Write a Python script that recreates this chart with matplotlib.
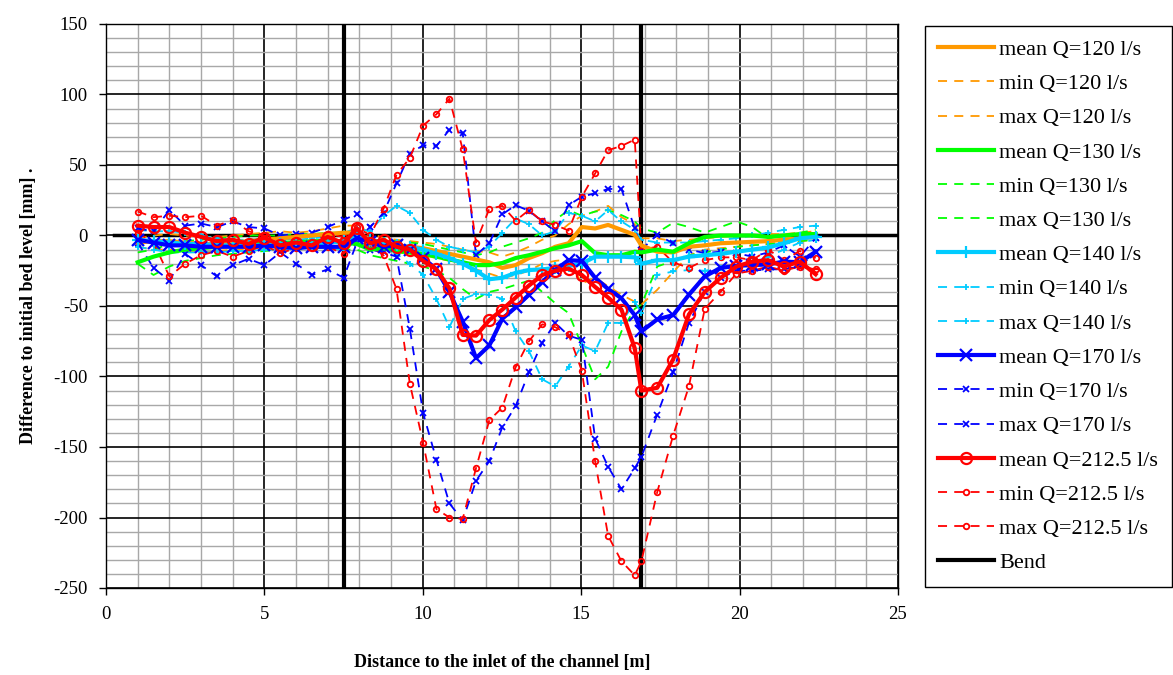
import matplotlib
matplotlib.use("Agg")
import matplotlib.pyplot as plt
from matplotlib.ticker import MultipleLocator
from matplotlib.lines import Line2D

# ============================ DADOS ============================

# Estações de medição ao longo do canal [m]
STATIONS = [1.0, 1.5, 2.0, 2.5, 3.0, 3.5, 4.0, 4.5, 5.0, 5.5, 6.0, 6.5,
            7.0, 7.5, 7.92, 8.34, 8.76, 9.17, 9.59, 10.01, 10.43, 10.84, 11.26, 11.68,
            12.1, 12.51, 12.93, 13.35, 13.77, 14.18, 14.6, 15.02, 15.44, 15.85, 16.27, 16.69,
            16.9, 17.4, 17.9, 18.4, 18.9, 19.4, 19.9, 20.4, 20.9, 21.4, 21.9, 22.4]

# Q = 120 l/s
Q120_MEAN = [-5, -4, -4, -5, -6, -6, -5, -4, -3, -2, -1, 0,
             1, 2, 2, -3, -6, -8, -8, -9, -11, -13, -15, -17,
             -19, -23, -21, -16, -12.5, -8, -5.5, 6, 5, 7.5, 4, 0.5,
             -7, -11.5, -12, -8, -7, -5.5, -5, -4.5, -4, -3, -2, -1]
Q120_MIN = [-8, -10, -10, -11, -12, -11, -10, -10, -8, -7, -6, -5,
            -5, -4, -3, -8, -10, -12, -13, -14, -16, -18, -20, -24,
            -27, -30, -28, -25, -20, -18, -17, -34, -30, -36, -42, -47,
            -49, -38.5, -26, -14, -10, -9, -8, -7, -6, -5, -4, -3]
Q120_MAX = [-2, 0, 1, 0, -1, -1, 0, 1, 2, 3, 2, 3,
            5, 7, 7, 2, -2, -3, -4, -5, -6, -8, -10, -11,
            -12, -15, -12, -8, -3, 0, 8, 14, 17, 21, 13, 8,
            -2, -2, -4, -3, -2, -1, 0, 0, 1, 1, 2, 3]

# Q = 130 l/s
Q130_MEAN = [-19, -15, -12, -10, -9, -8, -7, -6, -6, -5, -5, -4,
             -4, -5, -6, -10, -9, -11, -12, -13, -15, -17, -19, -21,
             -21, -19.5, -16, -14, -11.5, -9, -7, -4, -12.5, -14, -14, -11.5,
             -12, -10, -11.5, -5.5, -1, 0, 0, 0, -1, 0, 1, 1]
Q130_MIN = [-20, -28, -22, -18, -16, -14, -13, -12, -11, -10, -10, -9,
            -9, -10, -10, -14, -16, -18, -20, -22, -25, -30, -38, -45,
            -40, -38, -35, -32, -40, -48, -55, -78, -102, -93, -68, -52,
            -49, -22, -18, -14, -12, -10, -8, -7, -6, -5, -4, -3]
Q130_MAX = [-12, -10, -6, -4, -3, -2, -1, 0, 0, 0, 1, 1,
            2, 2, 1, -5, -3, -4, -5, -6, -8, -10, -12, -14,
            -12, -8, -5, -2, 2, 11, 18, 14, 17, 18, 14.5, 10,
            5, 2, 9, 6, 2, 6, 10, 6, -2, 0, 2, 4]

# Q = 140 l/s
Q140_MEAN = [-3, -4, -5, -6, -6, -7, -7, -7, -7, -6, -6, -6,
             -5, -4, 0, -3, -5, -7, -8, -10, -13, -16, -20, -25,
             -31, -30, -26.5, -24.5, -24, -23, -21.5, -20, -15, -15, -15, -15.5,
             -20, -17.5, -17.5, -15, -14, -13, -11.5, -10, -8.5, -5.5, -2, -1]
Q140_MIN = [-8, -10, -12, -12, -12, -12, -11, -11, -10, -10, -9, -9,
            -9, -10, -4, -8, -10, -13, -20, -28, -45, -65, -45, -41.5,
            -42, -45, -68, -82, -102, -107, -93, -78, -82, -62, -62, -47,
            -55, -28, -25.5, -24.5, -25, -23, -22.5, -20, -15, -10, -5, -3]
Q140_MAX = [4, 3, 3, 2, 0, -2, -3, -3, -2, -2, -3, -2,
            -1, 2, 5, 3, 14, 21, 16, 4, -3, -8, -10, -12,
            -8, 2, 12, 8, 0, 3, 16, 14, 10, 18, 10, 4,
            -3, -5, -5, -5, -4, -3, -2, 0, 2, 4, 6, 7]

# Q = 170 l/s
Q170_MEAN = [-3, -5, -7, -7, -8, -8, -8, -8, -7, -8, -9, -8,
             -8, -8, -2, -4.5, -8, -7, -10, -16, -24, -40, -61, -87,
             -78, -59, -51, -42, -33, -24.5, -17.5, -18, -30, -38, -44.5, -56.5,
             -68, -59.5, -56.5, -42, -29, -23, -21.5, -21, -20.5, -18.5, -19, -11.5]
Q170_MIN = [-5, -23, -32, -13, -21, -29, -21, -16.5, -21, -12, -20, -28,
            -24, -30, -5, -10, -12, -15, -66, -126, -159, -190, -202, -174,
            -160, -136, -121, -97, -76, -62, -71, -74, -144, -164, -180, -165,
            -157, -127, -97, -62, -40, -30, -25, -25, -24, -24, -22, -12]
Q170_MAX = [5, 3, 18, 7, 8.5, 6, 10, 6, 5, 0, 1, 2,
            6, 11, 15.5, 6, 16, 37, 58, 64, 63.5, 75, 72.5, -14,
            -5.5, 15, 21.5, 17.5, 10, 3, 21.5, 27.5, 30, 33, 33, 5,
            -10, 0.5, -5.5, -10, -12.5, -11.5, -12.5, -15, -12, -7, -15, -2]

# Q = 212.5 l/s
Q212_MEAN = [7, 6, 6, 2, -1, -4, -3, -6, -1.5, -7, -5, -7,
             -1, -5.5, 5, -5.5, -3, -8, -10, -18, -24, -37.5, -70.5, -71,
             -60, -52.5, -44, -35.5, -28, -25, -23.5, -28, -36.5, -44, -52.5, -80,
             -110, -108, -88, -56, -40, -30, -22, -18.5, -17.5, -22, -18.5, -27.5]
Q212_MIN = [2, -5, -29, -20, -14, -11, -15, -11, -7, -12.5, -9, -7,
            -8, -13, 0, -7, -14, -38, -105, -147, -194, -200, -201, -165,
            -131, -122, -93.5, -75, -63, -65, -70, -96, -160, -213, -231, -241,
            -231, -182, -142, -107, -52, -40, -27, -25, -22, -25, -22, -24]
Q212_MAX = [17, 13, 14, 13, 14, 7, 11, 3, 0, -3, -1, -5,
            1, -1, 6, 0, 19, 43, 55, 78, 86, 97, 61, -5,
            19, 21, 10.5, 18, 10, 7.5, 3.5, 27.5, 44, 60.5, 63.5, 68,
            -10, -8, -19, -23, -17.5, -15.5, -15.5, -17.5, -10, -17.5, -11, -16]

# Posição das curvas (início e fim) [m]
BEND_X = [7.5, 16.9]

# ========================= CONFIGURAÇÃO =========================

VAZOES = ["120", "130", "140", "170", "212.5"]
SERIES = [
    (Q120_MEAN, Q120_MIN, Q120_MAX),
    (Q130_MEAN, Q130_MIN, Q130_MAX),
    (Q140_MEAN, Q140_MIN, Q140_MAX),
    (Q170_MEAN, Q170_MIN, Q170_MAX),
    (Q212_MEAN, Q212_MIN, Q212_MAX),
]
CORES = ["#FF9900", "#00FF00", "#00CCFF", "#0000FF", "#FF0000"]
# (marcador da média, tamanho, marcador min/max, tamanho)
MARCADORES = [
    (None, 0, None, 0),
    (None, 0, None, 0),
    ("+", 8, "+", 5),
    ("x", 8, "x", 5),
    ("o", 8, "o", 4),
]

FONTE = "Liberation Serif"
DEFINICAO_VAR_X = "Distance to the inlet of the channel [m]"
DEFINICAO_VAR_Y = "Difference to initial bed level [mm] ."
NOME_SAIDA = "out.png"

# =========================== GRÁFICO ===========================

plt.rcParams["font.family"] = FONTE
plt.rcParams["font.size"] = 13
plt.rcParams["axes.unicode_minus"] = False

fig = plt.figure(figsize=(11.73, 6.75), dpi=100)
ax = fig.add_axes([106 / 1173, 1 - 588 / 675, (898 - 106) / 1173, (588 - 24) / 675])

handles = []
labels = []

for vazao, (media, minimo, maximo), cor, (mk, ms, mk2, ms2) in zip(VAZOES, SERIES, CORES, MARCADORES):
    fc = "none" if mk == "o" else cor
    h1, = ax.plot(STATIONS, media, color=cor, lw=3, marker=mk, markersize=ms,
                  markerfacecolor=fc, markeredgewidth=1.6, zorder=4)
    h2, = ax.plot(STATIONS, minimo, color=cor, lw=1.3, ls=(0, (5, 4)), marker=mk2,
                  markersize=ms2, markerfacecolor=fc, markeredgewidth=1.3, zorder=3)
    h3, = ax.plot(STATIONS, maximo, color=cor, lw=1.3, ls=(0, (5, 4)), marker=mk2,
                  markersize=ms2, markerfacecolor=fc, markeredgewidth=1.3, zorder=3)
    handles += [h1, h2, h3]
    labels += ["mean Q=%s l/s" % vazao, "min Q=%s l/s" % vazao, "max Q=%s l/s" % vazao]

for xb in BEND_X:
    ax.axvline(xb, color="black", lw=3, zorder=2)
handles.append(Line2D([], [], color="black", lw=3))
labels.append("Bend")

# linha de referência (nível inicial)
ax.axhline(0, xmin=0.01, xmax=1, color="black", lw=2.5, zorder=2)

ax.set_xlim(0, 25)
ax.set_ylim(-250, 150)
ax.xaxis.set_major_locator(MultipleLocator(5))
ax.xaxis.set_minor_locator(MultipleLocator(1))
ax.yaxis.set_major_locator(MultipleLocator(50))
ax.yaxis.set_minor_locator(MultipleLocator(10))
ax.grid(which="minor", color="#a8a8a8", lw=1, zorder=0)
ax.grid(which="major", color="black", lw=1.2, zorder=1)
ax.set_axisbelow(True)
ax.tick_params(which="major", direction="out", length=5, width=1, labelsize=13.5, pad=8)
ax.tick_params(which="minor", length=0)
for s in ax.spines.values():
    s.set_color("black")
    s.set_linewidth(1)

ax.set_xlabel(DEFINICAO_VAR_X, fontweight="bold", fontsize=13, labelpad=22)
ax.set_ylabel(DEFINICAO_VAR_Y, fontweight="bold", fontsize=13, labelpad=12)

leg = ax.legend(handles, labels, loc="upper left", bbox_to_anchor=(925 / 1173, 1 - 26 / 675),
                bbox_transform=fig.transFigure, borderaxespad=0, fancybox=False,
                edgecolor="black", framealpha=1, fontsize=16, handlelength=2.5,
                handletextpad=0.25, labelspacing=0.615, borderpad=0.6, numpoints=1)
leg.get_frame().set_linewidth(1)

fig.savefig(NOME_SAIDA, dpi=100)
plt.close(fig)
